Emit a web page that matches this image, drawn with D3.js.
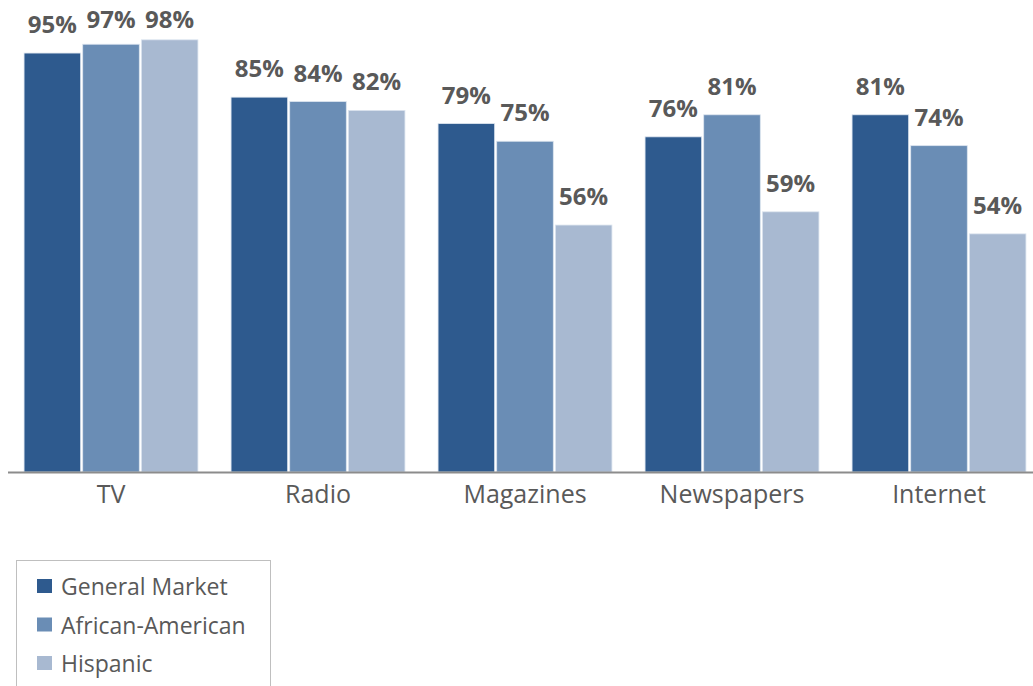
<!DOCTYPE html>
<html>
<head>
<meta charset="utf-8">
<script src="https://cdn.jsdelivr.net/npm/d3@7"></script>
<style>
  body { margin: 0; background: #fff; }
  svg { display: block; font-family: "Open Sans", sans-serif; }
</style>
</head>
<body>
<svg id="chart" width="1033" height="686"></svg>
<script>
var width = 1033;
var height = 686;

var categories = ["TV", "Radio", "Magazines", "Newspapers", "Internet"];
var seriesNames = ["General Market", "African-American", "Hispanic"];
var generalMarket = [95, 85, 79, 76, 81];
var africanAmerican = [97, 84, 75, 81, 74];
var hispanic = [98, 82, 56, 59, 54];
var colors = ["#2e5a8e", "#6a8db5", "#a8b9d1"];

var series = [generalMarket, africanAmerican, hispanic];

var svg = d3.select("#chart");

var x0 = d3.scaleBand()
    .domain(categories)
    .range([7.5, 1042.5])
    .paddingInner(0.16)
    .paddingOuter(0.08);

var x1 = d3.scaleBand()
    .domain(seriesNames)
    .range([0, x0.bandwidth()])
    .paddingInner(0.035);

var y = d3.scaleLinear()
    .domain([0, 100])
    .range([472, 31]);

var color = d3.scaleOrdinal().domain(seriesNames).range(colors);

function rows(c, i) {
    return seriesNames.map(function (s, j) { return { key: s, value: series[j][i] }; });
}

var groups = svg.selectAll("g.group")
    .data(categories)
    .enter().append("g")
    .attr("class", "group")
    .attr("transform", function (d) { return "translate(" + x0(d) + ",0)"; });

groups.selectAll("rect")
    .data(rows)
    .enter().append("rect")
    .attr("x", function (d) { return x1(d.key); })
    .attr("y", function (d) { return y(d.value); })
    .attr("width", x1.bandwidth())
    .attr("height", function (d) { return y(0) - y(d.value); })
    .style("fill", function (d) { return color(d.key); })
    .style("stroke", "#dde5ef")
    .style("stroke-width", 0.8);

// labels sit above the bar, but are pushed down to stay inside the top
groups.selectAll("text.val")
    .data(rows)
    .enter().append("text")
    .attr("class", "val")
    .attr("x", function (d) { return x1(d.key) + x1.bandwidth() / 2; })
    .attr("y", function (d) { return Math.max(y(d.value) - 20, 28); })
    .attr("text-anchor", "middle")
    .style("font-size", "24px")
    .style("font-weight", "bold")
    .style("fill", "#595959")
    .text(function (d) { return d.value + "%"; });

// x axis
var xAxis = svg.append("g")
    .attr("transform", "translate(0," + y(0) + ")")
    .call(d3.axisBottom(x0).tickSize(0).tickPadding(13));
xAxis.select(".domain")
    .attr("d", "M8,0.5H1033")
    .style("stroke", "#8c8c8c")
    .style("stroke-width", 2);
xAxis.selectAll("text")
    .style("font-family", "Open Sans, sans-serif")
    .style("font-size", "25px")
    .style("fill", "#595959");

// legend
var legend = svg.append("g");
legend.append("rect")
    .attr("x", 16.5)
    .attr("y", 560.5)
    .attr("width", 254)
    .attr("height", 140)
    .style("fill", "none")
    .style("stroke", "#bfbfbf");

var items = legend.selectAll("g.item")
    .data(seriesNames)
    .enter().append("g")
    .attr("class", "item")
    .attr("transform", function (d, i) { return "translate(37," + (579 + i * 38.5) + ")"; });
items.append("rect")
    .attr("width", 15)
    .attr("height", 14)
    .style("fill", function (d) { return color(d); });
items.append("text")
    .attr("x", 24)
    .attr("y", 16)
    .style("font-size", "23px")
    .style("fill", "#595959")
    .text(function (d) { return d; });
</script>
</body>
</html>
